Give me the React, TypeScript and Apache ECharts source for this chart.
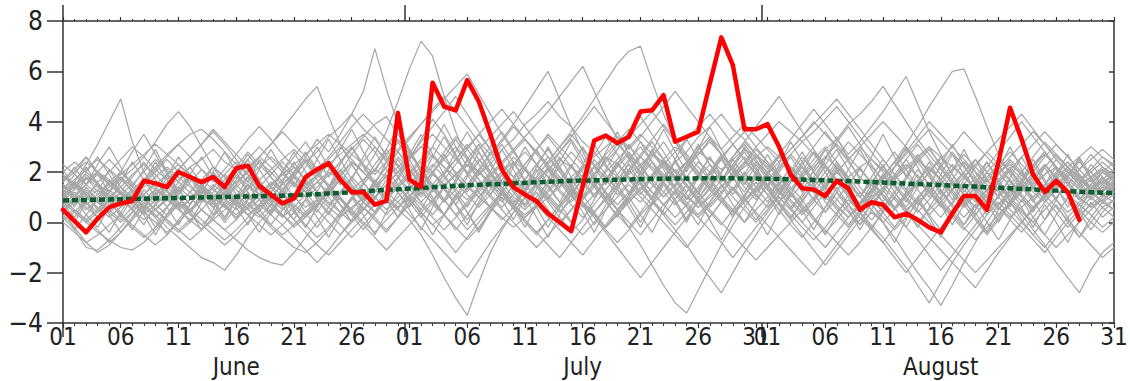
import React, { useEffect, useRef } from "react";
import * as echarts from "echarts";

// ---------- x axis: days June 1 .. Aug 31 (index 0..91) ----------
const tickIdx = [0, 5, 10, 15, 20, 25, 30, 35, 40, 45, 50, 55, 60, 61, 66, 71, 76, 81, 86, 91];
const tickText = ["01", "06", "11", "16", "21", "26", "01", "06", "11", "16", "21", "26", "31", "01", "06", "11", "16", "21", "26", "31"];
const dayIdx = [
  0, 1, 2, 3, 4, 5, 6, 7, 8, 9, 10, 11, 12, 13, 14, 15, 16, 17, 18, 19, 20, 21, 22, 23, 24, 25, 26, 27, 28, 29,
  30, 31, 32, 33, 34, 35, 36, 37, 38, 39, 40, 41, 42, 43, 44, 45, 46, 47, 48, 49, 50, 51, 52, 53, 54, 55, 56, 57, 58, 59, 60,
  61, 62, 63, 64, 65, 66, 67, 68, 69, 70, 71, 72, 73, 74, 75, 76, 77, 78, 79, 80, 81, 82, 83, 84, 85, 86, 87, 88, 89, 90, 91,
];
const monthIdx = [15, 45, 76];
const monthText = ["June", "July", "August"];
const monthEdges = [0, 29.6, 60.5];

// ---------- observed (red) ----------
const observed = [
  0.5, 0.05, -0.4, 0.15, 0.6, 0.75, 0.85, 1.65, 1.55, 1.4,
  2.0, 1.8, 1.6, 1.8, 1.4, 2.15, 2.25, 1.45, 1.1, 0.75,
  0.95, 1.8, 2.1, 2.35, 1.7, 1.2, 1.2, 0.7, 0.85, 4.35,
  1.7, 1.4, 5.55, 4.6, 4.45, 5.65, 4.8, 3.5, 2.1, 1.4,
  1.1, 0.85, 0.35, 0.0, -0.35, 1.45, 3.25, 3.45, 3.15, 3.4,
  4.4, 4.45, 5.05, 3.2, 3.4, 3.6, 5.5, 7.35, 6.25, 3.7,
  3.7, 3.9, 3.0, 1.9, 1.35, 1.3, 1.05, 1.65, 1.35, 0.5,
  0.8, 0.7, 0.2, 0.35, 0.1, -0.2, -0.4, 0.35, 1.05, 1.05,
  0.5, 2.4, 4.55, 3.3, 1.9, 1.2, 1.65, 1.2, 0.1,
];

// ---------- climatology (green dotted) ----------
const climatology = [
  0.87, 0.88, 0.89, 0.9, 0.91, 0.92, 0.93, 0.94, 0.95, 0.96,
  0.97, 0.98, 0.99, 1.0, 1.01, 1.02, 1.03, 1.04, 1.05, 1.06,
  1.08, 1.1, 1.12, 1.15, 1.17, 1.2, 1.23, 1.26, 1.29, 1.31,
  1.34, 1.36, 1.4, 1.42, 1.45, 1.47, 1.49, 1.51, 1.53, 1.55,
  1.57, 1.59, 1.61, 1.63, 1.65, 1.66, 1.67, 1.68, 1.69, 1.7,
  1.72, 1.73, 1.73, 1.74, 1.74, 1.75, 1.75, 1.75, 1.75, 1.74,
  1.74, 1.73, 1.72, 1.71, 1.7, 1.68, 1.67, 1.65, 1.64, 1.62,
  1.6, 1.58, 1.56, 1.54, 1.52, 1.5, 1.48, 1.46, 1.44, 1.42,
  1.39, 1.37, 1.35, 1.33, 1.31, 1.28, 1.26, 1.24, 1.22, 1.2,
  1.18, 1.16,
];

// ---------- ensemble members (grey) ----------
const m01 = [1.2,1.6,2.3,3.1,4.0,4.9,3.2,2.0,1.4,1.0, 0.6,0.9,1.5,2.2,1.8,1.1,0.5,0.2,0.7,1.3, 1.9,2.4,1.7,1.0,0.4,0.9,1.6,2.3,2.9,2.2, 1.5,0.8,0.3,0.9,1.7,2.5,3.1,2.4,1.6,1.0, 0.7,1.3,2.0,2.8,3.3,2.6,1.8,1.1,0.5,1.0, 1.8,2.6,3.2,2.5,1.7,1.2,0.6,1.1,1.9,2.4, 2.0,1.3,0.7,0.2,0.8,1.5,2.3,2.9,2.1,1.4, 0.9,0.4,1.0,1.7,2.5,3.0,2.2,1.5,0.8,0.3, 0.9,1.6,2.1,1.5,0.9,1.3,1.9,2.4,1.8,1.2, 0.8,1.1];
const m02 = [0.6,-0.3,-1.0,-1.1,-0.7,-0.2,0.4,0.9,1.3,1.0, 0.5,0.1,-0.3,0.2,0.8,1.5,2.1,2.6,2.2,1.6, 1.0,0.6,0.9,1.4,2.0,2.7,3.3,2.8,2.1,1.5, 0.9,0.4,-0.1,0.3,1.0,1.8,2.4,3.0,3.6,2.9, 2.1,1.4,0.8,0.2,-0.4,0.1,0.9,1.7,2.3,2.8, 2.2,1.6,1.0,1.5,2.2,2.9,3.4,2.7,2.0,1.4, 0.9,1.5,2.1,2.7,2.2,1.5,0.8,0.3,-0.2,0.4, 1.1,1.8,2.4,1.9,1.3,0.7,0.2,0.8,1.5,2.2, 2.8,2.3,1.6,1.0,0.5,1.0,1.7,2.1,1.6,1.1, 1.4,1.8];
const m03 = [1.8,1.5,1.1,0.8,1.2,1.7,2.1,2.6,3.2,3.9, 4.4,3.8,3.0,2.2,1.5,0.9,0.5,0.9,1.4,1.1, 0.6,0.2,0.7,1.3,1.9,1.4,0.8,0.4,1.0,1.7, 2.5,3.3,4.1,3.5,2.7,1.9,1.2,0.6,0.1,0.6, 1.3,2.0,2.6,2.1,1.5,0.9,1.4,2.1,2.9,3.6, 4.2,3.5,2.8,2.0,1.4,0.8,1.3,2.0,2.6,3.1, 2.5,1.8,1.2,0.6,1.1,1.8,2.5,3.2,3.8,3.1, 2.3,1.6,1.0,0.5,0.9,1.5,2.2,2.8,2.2,1.6, 1.0,0.5,1.1,1.7,2.3,2.8,2.2,1.6,1.1,1.5, 2.0,1.7];
const m04 = [0.2,0.5,0.1,-0.3,-0.8,-0.4,0.2,0.7,0.3,-0.2, -0.6,-1.0,-1.4,-1.6,-1.9,-1.3,-0.6,0.0,0.5,0.9, 0.4,-0.1,-0.6,-0.2,0.4,1.0,0.6,0.1,-0.4,0.2, 0.8,1.4,0.9,0.3,-0.3,0.3,1.0,1.6,1.2,0.6, 0.0,-0.5,0.1,0.7,1.3,1.9,1.4,0.8,0.3,-0.2, 0.4,1.0,1.6,2.1,1.5,0.9,0.4,-0.1,0.5,1.1, 1.6,1.1,0.5,-0.1,-0.6,0.0,0.6,1.2,0.7,0.2, -0.3,-0.8,-0.2,0.4,1.0,1.5,0.9,0.4,-0.1,0.5, 1.1,0.6,0.1,-0.4,0.2,0.8,1.3,0.8,0.3,0.7, 1.1,0.8];
const m05 = [1.0,1.3,1.7,2.0,1.6,1.2,0.8,1.1,1.5,1.9, 2.3,1.8,1.3,0.9,1.2,1.6,2.0,2.4,2.0,1.5, 1.9,2.6,3.3,2.8,3.5,4.3,5.2,6.9,5.3,3.9, 2.8,2.0,1.3,0.8,1.3,1.9,2.5,2.0,1.4,0.9, 0.5,1.0,1.6,2.2,2.8,2.3,1.7,1.2,0.7,1.2, 1.8,2.4,1.9,1.4,0.9,1.4,2.0,2.6,3.1,2.5, 1.9,1.3,0.8,1.3,1.9,2.5,3.0,2.4,1.8,1.2, 0.7,1.2,1.8,2.3,1.8,1.2,0.7,0.3,0.8,1.4, 2.0,2.5,2.0,1.5,1.0,1.5,2.0,2.4,1.9,1.4, 1.2,1.6];
const m06 = [0.5,0.9,1.3,0.9,0.5,0.1,0.6,1.1,1.6,1.2, 0.8,0.4,0.9,1.4,1.9,2.4,1.9,1.4,0.9,0.5, 0.9,1.4,1.9,2.5,3.0,2.5,2.0,2.7,3.6,4.8, 6.1,7.2,6.6,5.0,3.6,2.5,1.7,1.1,0.6,1.1, 1.7,2.3,1.8,1.2,0.7,0.2,0.7,1.3,1.9,2.5, 3.0,2.4,1.8,1.3,0.8,0.3,0.8,1.4,2.0,2.6, 2.1,1.5,1.0,0.5,1.0,1.6,2.2,1.7,1.1,0.6, 0.1,0.6,1.2,1.8,2.4,2.9,2.3,1.7,1.1,0.6, 1.1,1.7,2.2,1.7,1.2,0.8,1.3,1.8,1.4,0.9, 1.3,1.5];
const m07 = [1.4,1.1,0.7,1.0,1.4,1.8,1.4,0.9,0.5,0.9, 1.4,1.9,1.5,1.0,0.6,1.0,1.5,1.1,0.6,0.2, 0.6,1.1,1.6,1.2,0.7,0.3,0.8,1.3,0.9,0.5, 0.1,-0.5,-1.3,-2.2,-3.0,-3.7,-2.4,-1.2,-0.3,0.4, 1.0,1.6,2.1,1.6,1.1,0.6,1.1,1.7,2.3,1.8, 1.2,0.7,1.2,1.8,2.4,1.9,1.3,0.8,0.3,0.8, 1.4,2.0,2.6,2.1,1.5,0.9,0.4,0.9,1.5,2.1, 1.6,1.0,0.5,1.0,1.6,2.2,1.7,1.1,0.6,1.1, 1.7,2.2,1.7,1.1,0.6,1.0,1.5,1.1,0.7,1.1, 1.5,1.2];
const m08 = [1.6,2.0,2.4,2.0,1.5,1.1,1.5,2.0,2.5,2.1, 1.6,1.2,0.8,1.2,1.7,2.2,2.8,2.3,1.8,1.3, 0.9,1.3,1.8,2.3,1.9,1.4,0.9,1.4,2.0,2.6, 2.1,1.6,2.2,2.8,3.4,2.9,2.3,1.7,1.2,1.7, 2.3,2.9,3.4,2.8,2.2,1.6,1.1,1.6,2.2,2.7, 2.2,1.7,1.2,0.7,1.2,1.8,2.3,1.8,1.3,0.8, 1.3,1.8,1.4,0.9,0.4,0.9,1.4,0.9,0.4,-0.1, 0.4,0.0,-0.6,-1.3,-2.0,-2.6,-3.3,-2.5,-1.6,-0.8, 0.0,0.7,1.3,1.9,1.4,0.9,0.4,-0.2,0.4,1.0, 1.4,1.2];
const m09 = [0.8,0.4,0.0,0.4,0.9,1.4,1.0,0.6,0.2,0.6, 1.1,1.6,2.1,1.7,1.2,0.8,0.3,0.7,1.2,1.7, 2.2,1.7,1.2,0.7,1.2,1.8,2.4,3.0,2.4,1.8, 1.3,0.8,1.3,1.9,2.5,3.1,2.5,1.9,1.3,0.8, 1.2,1.8,2.4,3.0,3.5,2.9,2.3,1.7,1.1,1.6, 2.2,2.8,2.3,1.7,1.1,0.6,1.1,1.7,2.3,2.9, 2.4,1.8,1.3,1.8,2.4,3.0,3.6,3.0,2.4,1.8, 1.3,1.8,2.4,3.1,3.8,4.6,5.3,6.0,6.1,5.0, 3.8,2.7,1.9,1.3,1.8,2.3,1.8,1.3,0.9,1.3, 1.7,1.4];
const m10 = [0.0,-0.4,-0.8,-0.5,-0.1,0.3,-0.1,-0.5,-0.9,-0.5, 0.0,0.5,0.1,-0.3,-0.7,-0.3,0.2,0.7,0.3,-0.1, -0.6,-1.1,-1.6,-1.1,-0.5,0.1,0.6,0.2,-0.3,0.2, 0.7,1.2,0.8,0.3,-0.2,-0.7,-0.2,0.4,1.0,0.6, 0.1,-0.4,-0.9,-1.4,-0.8,-0.2,0.4,1.0,0.5,0.0, -0.5,0.1,0.7,1.2,0.7,0.2,-0.3,-0.8,-1.4,-0.8, -0.2,0.4,1.0,0.5,0.0,-0.5,-1.0,-0.4,0.2,0.8, 1.3,0.8,0.3,-0.2,-0.7,-1.3,-1.9,-1.3,-0.7,-0.1, 0.5,1.0,0.5,0.0,-0.5,-1.0,-0.4,0.2,0.7,0.3, -0.2,0.2];
const m11 = [2.0,2.4,2.0,1.6,2.0,2.5,3.0,2.6,2.1,1.7, 2.1,2.6,3.1,3.7,3.2,2.7,2.2,2.6,3.1,3.6, 3.1,2.6,2.1,2.6,3.2,3.8,4.3,3.8,3.3,2.8, 3.3,3.9,4.5,5.0,4.4,3.8,3.2,2.7,3.2,3.8, 3.3,2.8,2.3,2.8,3.4,4.0,4.6,4.0,3.4,2.9, 3.4,4.0,4.6,5.2,4.6,4.0,3.4,2.9,3.4,3.9, 3.4,2.9,2.4,2.9,3.4,4.0,3.5,3.0,2.5,3.0, 3.5,4.0,3.5,3.0,2.5,2.0,2.5,3.0,3.6,3.1, 2.6,2.1,2.6,3.1,3.6,3.1,2.6,2.2,2.6,3.0, 2.6,2.3];
const m12 = [1.1,1.5,1.9,1.5,1.0,0.6,1.0,1.5,2.0,2.5, 2.0,1.5,1.0,0.6,1.0,1.5,2.0,2.6,3.1,3.7, 4.3,4.9,5.4,4.2,3.1,2.3,1.6,1.0,0.5,1.0, 1.5,2.1,2.7,2.2,1.6,1.1,0.6,1.1,1.7,2.3, 2.8,2.3,1.8,1.3,0.8,1.3,1.9,2.5,3.1,2.6, 2.0,1.5,1.0,1.5,2.1,2.7,3.3,2.7,2.1,1.6, 1.1,0.6,1.1,1.7,2.3,2.8,2.3,1.7,1.2,0.7, 1.2,1.8,2.4,2.9,2.4,1.8,1.2,0.7,0.2,0.7, 1.3,1.9,2.5,2.0,1.4,0.9,1.4,1.9,2.4,2.0, 1.5,1.9];
const m13 = [0.9,0.5,0.1,0.5,1.0,1.4,1.9,2.3,1.9,1.4, 1.0,0.5,0.9,1.4,1.9,1.5,1.0,0.6,1.0,1.5, 2.0,2.5,2.0,1.5,1.0,0.5,1.0,1.6,2.2,2.8, 2.3,1.7,1.2,1.7,2.3,2.9,3.5,2.9,2.3,1.8, 1.3,1.8,2.4,3.0,3.6,4.2,4.9,5.6,6.3,6.8, 7.0,5.6,4.3,3.2,2.4,1.8,1.3,0.8,1.3,1.8, 2.4,2.0,1.5,1.0,1.5,2.0,2.6,3.1,2.6,2.1, 1.6,1.1,0.6,1.1,1.6,2.2,1.7,1.2,0.7,1.2, 1.8,2.3,2.8,2.3,1.8,1.3,1.8,2.2,1.7,1.3, 1.6,1.9];
const m14 = [1.3,0.9,0.5,0.9,1.3,0.9,0.5,0.1,0.5,1.0, 1.4,1.0,0.5,0.1,-0.3,0.1,0.6,1.1,1.6,1.2, 0.7,0.3,0.7,1.2,1.7,1.3,0.8,0.4,0.9,1.4, 1.9,2.4,2.0,1.5,1.0,1.5,2.1,2.7,3.3,3.9, 4.6,5.3,6.0,4.9,3.8,2.8,1.9,1.2,0.5,-0.2, -0.9,-1.7,-2.5,-3.2,-3.6,-2.7,-1.8,-0.9,-0.1,0.6, 1.2,1.8,1.3,0.8,0.3,0.8,1.4,2.0,1.5,1.0, 0.5,0.0,0.5,1.1,1.7,1.2,0.7,0.2,-0.3,0.3, 0.9,1.4,0.9,0.4,0.0,0.5,1.0,1.5,1.0,0.6, 0.9,1.2];
const m15 = [1.5,1.1,0.7,1.1,1.6,2.0,1.6,1.1,0.7,0.3, 0.7,1.2,1.7,1.3,0.9,0.5,0.9,1.4,1.9,2.4, 1.9,1.4,1.0,1.4,1.9,2.4,2.0,1.5,1.0,1.5, 2.0,2.5,3.0,2.5,2.0,1.5,1.0,1.5,2.0,2.6, 2.1,1.6,1.1,0.6,1.1,1.7,2.2,1.8,1.3,0.8, 1.3,1.9,2.5,3.0,2.5,2.0,1.5,2.0,2.6,3.2, 2.7,2.1,2.7,3.3,3.9,4.5,3.9,3.3,2.7,3.2, 3.8,4.4,5.1,5.8,4.7,3.6,2.7,1.9,1.3,0.8, 1.3,1.9,2.4,1.9,1.4,1.9,2.5,2.0,1.5,1.8, 2.2,1.9];
const m16 = [0.4,0.8,1.2,0.8,0.4,0.0,0.4,0.9,1.3,0.9, 0.5,0.9,1.4,1.0,0.6,0.2,0.6,1.1,0.7,0.3, -0.1,0.3,0.8,1.3,0.9,0.5,0.0,-0.4,0.1,0.6, 1.1,0.7,0.2,-0.3,0.2,0.7,1.2,1.7,1.2,0.7, 0.2,0.7,1.3,1.8,1.3,0.8,0.3,-0.2,0.3,0.9, 1.4,0.9,0.4,-0.1,0.4,1.0,1.5,1.0,0.5,0.0, 0.5,1.0,1.6,1.1,0.6,0.1,-0.4,0.1,0.7,1.2, 0.7,0.2,-0.3,0.2,0.8,1.3,0.8,0.3,-0.2,-0.7, -0.2,0.3,0.8,0.3,-0.3,-0.9,-1.6,-2.2,-2.8,-1.9, -1.2,-0.8];
const m17 = [1.0,0.7,1.1,1.5,1.2,0.8,1.2,1.6,1.3,0.9, 1.3,1.7,1.4,1.0,1.4,1.8,1.5,1.1,1.5,1.9, 1.6,1.2,1.6,2.0,1.7,1.3,1.7,2.1,1.8,1.4, 1.8,2.2,1.9,1.5,1.9,2.3,2.0,1.6,2.0,2.4, 2.1,1.7,2.1,2.5,2.2,1.8,2.2,2.6,2.3,1.9, 2.3,2.7,2.4,2.0,2.4,2.8,2.5,2.1,2.5,2.9, 2.6,2.2,2.6,2.2,1.8,2.2,2.6,2.2,1.8,2.2, 2.5,2.1,1.7,2.1,2.5,2.1,1.7,2.1,2.4,2.0, 1.6,2.0,2.3,1.9,1.5,1.9,2.2,1.8,1.4,1.8, 2.1,1.7];
const m18 = [0.3,-0.2,-0.8,-1.2,-0.9,-0.4,0.1,0.6,1.1,1.6, 2.1,2.6,3.1,3.6,3.1,2.5,1.9,1.3,0.8,0.3, -0.2,0.2,0.7,1.2,1.8,2.4,2.0,1.5,1.0,0.6, 1.0,1.5,2.0,2.5,3.0,2.5,2.0,1.5,1.1,0.7, 0.3,0.7,1.2,1.7,1.2,0.8,0.4,0.9,1.4,2.0, 2.6,2.1,1.6,1.1,0.6,0.2,0.7,1.2,1.8,2.4, 3.0,3.5,4.0,3.6,3.2,3.6,4.1,4.6,4.0,3.4, 2.8,2.2,1.7,1.2,0.7,1.2,1.7,2.3,1.8,1.3, 0.8,0.3,0.8,1.4,2.0,2.6,3.1,2.6,2.1,1.6, 2.0,2.4];
const m19 = [1.2,1.6,1.2,0.8,0.4,0.8,1.3,0.9,0.5,0.1, -0.3,0.1,0.5,0.1,-0.3,-0.7,-1.1,-1.4,-1.6,-1.7, -1.2,-0.6,0.0,0.6,1.2,1.8,1.3,0.8,0.3,0.8, 1.3,1.8,2.3,1.8,1.3,0.9,1.4,1.9,2.4,2.9, 3.4,3.9,4.4,5.0,5.6,6.2,5.2,4.2,3.3,2.5, 1.8,1.2,0.7,1.2,1.8,2.4,2.0,1.5,1.0,0.5, 0.0,0.5,1.1,1.7,2.2,1.7,1.2,0.7,0.2,0.7, 1.3,1.9,1.4,0.9,0.4,0.9,1.5,2.1,2.7,2.2, 1.7,1.2,0.7,1.2,1.7,2.2,2.7,2.2,1.7,1.3, 1.7,2.1];
const m20 = [0.7,1.1,1.5,1.9,1.5,1.1,0.7,0.3,0.7,1.1, 0.7,0.3,-0.1,0.3,0.7,1.1,0.7,0.3,-0.1,-0.5, -0.1,0.4,0.9,0.4,-0.1,-0.6,-0.1,0.4,0.9,1.4, 0.9,0.4,-0.1,-0.6,-1.2,-0.6,0.0,0.6,1.1,0.6, 0.1,-0.4,0.1,0.7,1.2,0.7,0.2,-0.3,-0.8,-0.3, 0.3,0.8,0.3,-0.3,-0.9,-1.6,-2.2,-2.8,-2.0,-1.2, -0.5,0.2,0.8,0.3,-0.2,-0.7,-0.2,0.4,0.9,0.4, -0.1,-0.6,-1.2,-1.8,-2.5,-3.2,-2.4,-1.6,-0.9,-0.3, 0.3,0.8,0.3,-0.2,-0.7,-1.2,-0.6,0.0,0.5,0.0, -0.4,0.0];
const m21 = [1.9,1.5,1.0,0.6,0.2,0.6,1.1,1.6,2.1,2.6, 3.1,2.6,2.1,1.6,2.1,2.7,3.3,3.8,3.3,2.7, 2.2,1.7,1.2,0.8,0.4,0.0,0.5,1.0,1.5,2.0, 2.6,3.2,3.8,4.4,5.0,4.3,3.6,2.9,2.3,1.8, 2.3,2.9,3.5,3.0,2.5,2.0,1.5,1.0,1.5,2.1, 2.7,3.3,3.9,3.3,2.7,2.2,1.7,1.2,1.7,2.3, 2.9,2.4,1.9,1.4,0.9,1.4,2.0,2.6,3.2,2.7, 2.2,1.7,2.2,2.8,3.4,4.0,3.5,3.0,2.5,2.0, 1.5,1.0,1.5,2.0,2.6,3.2,2.7,2.2,1.7,2.1, 2.6,2.2];
const m22 = [0.9,1.2,0.8,0.4,0.8,1.2,0.8,0.4,0.0,-0.4, 0.0,0.5,1.0,1.5,1.1,0.7,0.3,-0.1,-0.5,-0.1, 0.4,0.9,1.4,1.9,2.4,2.9,3.4,3.9,4.2,3.5, 2.8,2.1,1.5,0.9,0.3,-0.3,0.2,0.7,1.2,1.7, 1.2,0.7,0.2,-0.3,-0.8,-1.3,-0.7,-0.1,0.5,1.1, 1.7,1.2,0.7,0.2,0.7,1.3,1.9,2.5,3.1,3.6, 3.0,2.4,1.8,1.2,0.7,0.2,-0.3,-0.8,-1.3,-0.8, -0.2,0.4,1.0,0.5,0.0,0.5,1.0,1.5,2.0,2.5, 2.0,1.5,1.0,0.5,0.0,-0.5,-1.0,-0.5,0.0,0.5, 0.9,0.5];
const m23 = [1.7,2.1,2.6,2.0,1.7,1.2,0.9,0.4,0.9,1.4, 1.7,2.2,2.5,2.9,2.4,2.1,1.6,1.3,0.8,1.3, 1.8,2.4,2.8,3.4,3.8,4.3,3.7,3.3,2.7,2.3, 1.7,1.3,0.7,0.3,0.9,1.3,1.9,2.3,2.9,3.3, 3.9,4.3,4.8,4.2,3.8,3.2,2.8,2.2,1.8,1.2, 0.8,1.4,1.8,2.4,2.8,3.4,3.8,4.3,3.7,3.3, 2.7,2.3,1.7,1.3,1.9,2.3,2.9,3.3,3.9,4.3, 4.8,5.4,4.7,4.0,3.3,2.7,2.1,1.6,1.1,0.6, 1.1,1.6,2.1,2.6,3.1,3.6,3.1,2.6,2.1,2.5, 2.9,2.5];
const m24 = [0.1,0.4,0.9,1.3,0.8,0.3,-0.2,-0.6,-0.2,0.3, 0.8,0.4,-0.1,-0.5,-0.9,-0.5,0.0,0.5,1.0,0.6, 0.1,-0.4,-0.9,-1.3,-0.8,-0.3,0.2,0.7,1.2,0.8, 0.3,-0.2,-0.7,-1.2,-1.7,-2.2,-1.5,-0.8,-0.2,0.4, 1.0,1.5,1.0,0.5,0.0,-0.5,0.0,0.5,1.0,1.5, 1.0,0.5,0.0,-0.5,-1.0,-0.4,0.2,0.8,1.4,0.9, 0.4,-0.1,-0.6,-1.1,-1.6,-2.1,-1.5,-0.9,-0.3,0.3, 0.9,1.4,0.9,0.4,-0.1,-0.6,-1.1,-1.6,-2.1,-2.6, -1.9,-1.2,-0.6,0.0,0.6,1.1,0.6,0.1,-0.4,-0.9, -1.4,-1.0];
const m25 = [1.3,1.7,2.1,2.5,2.1,1.7,1.3,1.7,2.2,2.7, 3.1,3.5,3.7,3.3,2.8,2.3,1.9,1.5,1.1,0.7, 1.1,1.5,1.9,2.3,2.7,3.1,3.5,3.0,2.5,2.0, 1.5,1.0,1.5,2.0,2.5,3.0,3.5,4.0,4.5,3.9, 3.3,2.7,2.2,1.7,1.2,1.7,2.2,2.7,3.2,3.7, 3.2,2.7,2.2,1.7,2.2,2.7,3.2,2.7,2.2,1.7, 1.2,1.7,2.2,2.7,3.2,2.7,2.2,1.7,1.2,0.7, 1.2,1.7,2.2,2.7,3.2,3.7,3.2,2.7,2.2,1.7, 1.2,0.7,1.2,1.7,2.2,2.7,2.2,1.7,1.3,1.7, 2.1,1.8];
const m26 = [0.8,0.4,0.0,-0.4,-0.7,-1.0,-1.1,-0.8,-0.3,0.2, 0.7,1.2,1.7,2.2,1.8,1.3,0.8,0.3,-0.2,-0.6, -1.0,-1.2,-0.8,-0.3,0.3,0.9,1.5,2.1,2.7,3.3, 2.7,2.1,1.5,0.9,0.3,0.8,1.3,1.8,2.3,2.8, 3.3,2.8,2.3,1.8,1.3,0.8,0.3,-0.2,0.3,0.8, 1.3,1.8,2.3,2.8,3.3,3.8,4.3,3.7,3.1,2.5, 1.9,1.3,0.7,0.1,-0.5,-1.1,-1.7,-1.1,-0.5,0.1, 0.7,1.3,1.9,2.5,3.1,2.5,1.9,1.3,0.7,0.1, -0.5,0.1,0.7,1.3,1.9,1.4,0.9,0.4,0.8,1.2, 1.6,1.3];
const m27 = [2.3,1.9,1.5,1.1,1.5,1.9,2.3,2.7,3.1,2.7, 2.3,1.9,1.5,1.1,0.7,0.3,0.7,1.1,1.5,1.9, 2.3,2.7,3.1,3.5,3.1,2.7,2.3,1.9,2.4,2.9, 3.4,3.9,4.4,4.9,5.4,5.9,5.1,4.3,3.5,2.8, 2.1,1.5,0.9,0.4,0.9,1.4,1.9,2.4,2.9,3.4, 3.9,4.4,3.8,3.2,2.6,2.0,1.4,0.9,0.4,0.9, 1.4,1.9,2.4,2.9,3.4,3.9,4.4,4.9,4.3,3.7, 3.1,2.5,1.9,1.3,0.8,0.3,0.8,1.3,1.8,2.3, 2.8,3.3,3.8,4.3,3.7,3.1,2.5,2.0,1.6,2.0, 2.4,2.0];
const m28 = [1.5,1.0,0.6,0.2,0.5,0.9,1.3,0.9,0.5,0.1, -0.3,-0.7,-0.3,0.1,0.5,0.9,1.3,1.7,2.1,2.5, 2.9,2.4,1.9,1.4,0.9,0.4,-0.1,-0.6,-1.1,-0.6, -0.1,0.4,0.9,1.4,1.9,2.4,2.9,3.4,3.9,4.4, 3.8,3.2,2.6,2.0,1.4,0.8,0.2,-0.4,-1.0,-1.6, -2.2,-1.6,-1.0,-0.4,0.2,0.8,1.4,2.0,2.6,3.2, 3.8,4.4,5.0,4.3,3.6,2.9,2.2,1.6,1.0,0.4, -0.2,-0.8,-1.4,-2.0,-1.4,-0.8,-0.2,0.4,1.0,1.6, 2.2,2.8,3.4,4.0,3.4,2.8,2.2,1.6,1.0,0.6, 1.0,1.4];
const m29 = [1.1,1.4,1.8,1.4,1.1,0.7,1.1,1.4,1.8,2.2, 1.8,1.4,1.0,0.6,1.0,1.4,1.8,2.2,2.6,2.2, 1.8,1.4,1.0,0.6,0.2,0.6,1.0,1.4,1.8,2.2, 2.6,3.0,2.6,2.2,1.8,1.4,1.0,0.6,0.2,-0.2, 0.2,0.6,1.0,1.4,1.8,2.2,2.6,3.0,3.4,3.0, 2.6,2.2,1.8,1.4,1.0,0.6,1.0,1.4,1.8,2.2, 2.6,3.0,2.6,2.2,1.8,1.4,1.0,0.6,0.2,0.6, 1.0,1.4,1.8,2.2,2.6,3.0,2.6,2.2,1.8,1.4, 1.0,0.6,0.2,0.6,1.0,1.4,1.8,2.2,1.8,1.4, 1.1,1.4];
const m30 = [0.6,1.0,1.5,2.0,2.5,2.0,1.5,1.0,0.5,0.0, -0.4,0.0,0.5,1.0,1.5,2.0,2.5,3.0,2.5,2.0, 1.5,1.0,0.5,0.0,-0.5,0.0,0.5,1.0,1.5,2.0, 2.5,3.0,3.5,3.0,2.5,2.0,1.5,1.0,0.5,0.0, -0.5,-1.0,-0.5,0.0,0.5,1.0,1.5,2.0,2.5,3.0, 3.5,3.0,2.5,2.0,1.5,1.0,0.5,0.0,-0.5,-1.0, -1.5,-1.0,-0.5,0.0,0.5,1.0,1.5,2.0,2.5,3.0, 2.5,2.0,1.5,1.0,0.5,0.0,-0.5,-1.0,-1.5,-2.0, -1.5,-1.0,-0.5,0.0,0.5,1.0,1.5,2.0,1.5,1.0, 0.6,0.9];
const m31 = [1.2,0.6,1.4,0.9,1.7,1.1,0.5,1.3,0.8,1.6, 1.0,0.4,1.2,1.9,1.3,0.7,1.5,0.9,0.3,1.1, 1.8,1.2,0.6,1.4,2.1,1.5,0.9,1.7,1.1,0.5, 1.3,2.0,1.4,0.8,1.6,2.3,1.7,1.1,1.9,1.3, 0.7,1.5,2.2,1.6,1.0,1.8,2.5,1.9,1.3,2.1, 1.5,0.9,1.7,2.4,1.8,1.2,2.0,2.7,2.1,1.5, 2.3,1.7,1.1,1.9,2.6,2.0,1.4,2.2,1.6,1.0, 1.8,2.5,1.9,1.3,2.1,1.5,0.9,1.7,2.4,1.8, 1.2,2.0,1.4,0.8,1.6,2.3,1.7,1.1,1.9,1.3, 0.8,1.5];
const m32 = [0.4,1.0,0.3,-0.2,0.6,1.2,0.5,-0.1,0.7,1.3, 0.6,0.0,0.8,1.4,0.7,0.1,0.9,1.5,0.8,0.2, 1.0,1.6,0.9,0.3,1.1,1.7,1.0,0.4,1.2,1.8, 1.1,0.5,1.3,1.9,1.2,0.6,1.4,2.0,1.3,0.7, 1.5,2.1,1.4,0.8,1.6,2.2,1.5,0.9,1.7,2.3, 1.6,1.0,1.8,2.4,1.7,1.1,1.9,2.5,1.8,1.2, 2.0,1.4,0.8,1.6,2.2,1.5,0.9,1.7,1.1,0.5, 1.3,1.9,1.2,0.6,1.4,2.0,1.3,0.7,1.5,0.9, 0.3,1.1,1.7,1.0,0.4,1.2,1.8,1.1,0.5,1.3, 1.8,1.2];
const m33 = [1.9,1.3,2.0,2.6,1.9,1.2,1.8,2.4,1.7,1.0, 1.6,2.2,1.5,0.8,1.4,2.0,2.7,2.1,1.4,2.0, 2.6,3.2,2.5,1.8,2.4,3.0,2.3,1.6,2.2,2.8, 2.1,1.4,2.0,2.6,3.3,2.6,1.9,2.5,3.1,2.4, 1.7,2.3,2.9,2.2,1.5,2.1,2.7,3.4,2.7,2.0, 2.6,3.2,2.5,1.8,2.4,3.0,2.3,1.6,2.2,2.8, 2.1,1.4,2.0,2.6,1.9,1.2,1.8,2.4,1.7,1.0, 1.6,2.2,2.8,2.1,1.4,2.0,2.6,1.9,1.2,1.8, 2.4,1.7,1.0,1.6,2.2,2.8,2.1,1.5,2.1,2.7, 2.2,1.8];
const m34 = [0.2,-0.3,0.3,0.9,0.3,-0.4,0.2,0.8,0.2,-0.5, 0.1,0.7,1.3,0.6,0.0,0.6,1.2,0.5,-0.1,0.5, 1.1,0.4,-0.2,0.4,1.0,0.3,-0.3,0.3,0.9,1.5, 0.8,0.2,0.8,1.4,0.7,0.1,0.7,1.3,1.9,1.2, 0.6,1.2,0.5,-0.1,0.5,1.1,0.4,-0.2,0.4,1.0, 1.6,0.9,0.3,0.9,1.5,0.8,0.2,0.8,1.4,0.7, 0.1,0.7,1.3,0.6,0.0,0.6,1.2,0.5,-0.1,0.5, 1.1,0.4,-0.2,0.4,1.0,0.3,-0.3,0.3,0.9,0.2, -0.4,0.2,0.8,0.1,-0.5,0.1,0.7,0.0,-0.6,0.0, 0.6,0.2];
const m35 = [1.5,0.9,1.8,1.2,2.1,1.4,0.8,1.6,2.4,1.7, 1.1,1.9,1.3,0.7,1.5,2.2,1.6,2.5,1.8,1.2, 2.0,2.8,2.1,1.4,2.3,3.0,2.2,1.5,2.4,3.2, 2.5,1.7,2.6,3.4,2.6,1.9,2.8,2.0,1.3,2.2, 3.0,2.3,1.5,2.4,3.2,2.4,1.7,2.6,1.9,1.1, 2.0,2.9,2.1,1.4,2.3,3.1,2.3,1.6,2.5,1.8, 1.0,1.9,2.7,2.0,1.2,2.1,2.9,2.1,1.4,2.2, 1.5,0.8,1.7,2.5,1.8,1.0,1.9,2.7,1.9,1.2, 2.0,1.3,0.6,1.5,2.3,1.6,0.9,1.8,2.5,1.7, 1.0,1.6];
const m36 = [0.9,1.5,0.8,0.2,1.0,0.4,-0.3,0.5,1.2,0.6, -0.1,0.7,1.4,0.8,0.1,0.9,0.3,-0.4,0.4,1.1, 0.5,-0.2,0.6,1.3,0.7,0.0,0.8,1.5,0.9,0.2, 1.0,1.7,1.0,0.3,1.1,0.4,-0.3,0.5,1.3,0.6, -0.2,0.7,1.5,0.8,0.0,0.9,1.6,0.9,0.2,1.0, 0.3,-0.4,0.5,1.3,0.6,-0.1,0.8,1.5,0.7,0.0, 0.8,1.5,0.8,0.1,0.9,0.2,-0.5,0.3,1.1,0.4, -0.3,0.5,1.2,0.5,-0.2,0.6,1.3,0.6,-0.1,0.7, 0.0,-0.7,0.1,0.9,0.2,-0.5,0.3,1.0,0.4,-0.3, 0.4,0.9];
const m37 = [1.6,2.2,1.5,2.3,3.0,2.2,1.4,2.1,2.9,2.0, 1.2,1.9,2.6,1.8,1.0,1.7,2.5,1.7,0.9,1.6, 2.4,1.6,2.5,3.3,2.5,1.7,2.6,3.4,2.6,1.8, 2.7,3.5,2.7,1.9,2.8,3.6,2.8,2.0,2.9,2.1, 1.3,2.2,3.0,2.2,1.4,2.3,3.1,2.3,1.5,2.4, 3.2,2.4,1.6,2.5,3.3,2.5,1.7,2.6,1.8,1.0, 1.9,2.7,1.9,1.1,2.0,2.8,2.0,1.2,2.1,2.9, 2.1,1.3,2.2,3.0,2.2,1.4,2.3,3.1,2.3,1.5, 2.4,1.6,0.8,1.7,2.5,1.7,0.9,1.8,2.6,1.8, 1.2,1.9];
const m38 = [0.5,0.0,0.8,0.2,-0.4,0.4,1.1,0.5,-0.2,0.6, 1.3,0.7,1.5,0.9,0.2,1.0,1.8,1.1,0.4,1.2, 0.5,-0.2,0.6,1.4,0.7,0.0,0.8,1.6,0.9,0.2, 1.0,0.3,-0.5,0.3,1.1,0.4,-0.4,0.4,1.2,0.5, 1.3,0.6,-0.2,0.6,1.4,0.7,-0.1,0.7,1.5,0.8, 0.0,0.8,1.6,0.9,0.1,0.9,1.7,1.0,0.2,1.0, 1.8,1.1,0.3,1.1,1.9,1.2,0.4,1.2,0.5,-0.3, 0.5,1.3,0.6,-0.2,0.6,1.4,0.7,-0.1,0.7,1.5, 0.8,0.0,0.8,1.6,0.9,0.1,0.9,0.2,-0.6,0.2, 0.8,0.5];
const m39 = [1.3,1.9,2.6,1.9,1.2,2.0,2.8,3.5,2.7,1.9, 1.1,1.8,1.0,0.3,1.1,1.9,1.2,0.4,1.2,2.0, 2.8,2.0,1.2,2.1,2.9,3.7,2.8,2.0,2.9,3.8, 2.9,2.1,3.0,3.9,3.0,2.2,3.1,2.3,1.5,2.4, 1.6,0.8,1.7,2.6,1.8,1.0,1.9,2.8,3.6,2.7, 1.9,2.8,3.7,2.8,2.0,2.9,3.8,2.9,2.1,3.0, 2.2,1.4,2.3,3.2,2.4,1.6,2.5,3.4,2.5,1.7, 2.6,3.5,2.6,1.8,2.7,1.9,1.1,2.0,2.9,2.0, 1.2,2.1,3.0,2.1,1.3,2.2,1.4,0.6,1.5,2.3, 1.8,1.4];
const m40 = [0.7,0.2,0.9,1.6,0.9,0.2,1.0,0.3,-0.5,0.3, 1.0,0.4,-0.3,0.5,1.2,0.6,-0.1,0.7,1.4,0.8, 0.1,0.9,0.2,-0.6,0.2,1.0,0.3,-0.5,0.4,1.2, 0.5,-0.3,0.6,1.4,0.7,-0.1,0.8,1.6,0.9,0.1, 1.0,0.2,-0.6,0.3,1.1,0.4,-0.4,0.5,1.3,0.6, -0.2,0.7,1.5,0.8,0.0,0.9,0.1,-0.7,0.2,1.0, 0.3,-0.5,0.4,1.2,0.5,-0.3,0.6,1.4,0.7,-0.1, 0.8,0.0,-0.8,0.1,0.9,0.2,-0.6,0.3,1.1,0.4, -0.4,0.5,1.3,0.6,-0.2,0.7,0.0,-0.8,0.1,0.8, 0.2,0.6];
const m41 = [2.1,1.4,2.2,1.5,0.8,1.6,2.4,1.7,1.0,1.8, 2.6,1.9,1.1,2.0,2.8,2.0,1.3,2.1,2.9,2.1, 1.4,2.2,3.0,2.2,1.5,2.3,1.6,0.9,1.7,2.5, 1.8,1.1,1.9,2.7,1.9,1.2,2.0,2.8,2.0,1.3, 2.1,2.9,2.1,1.4,2.2,3.0,2.2,1.5,2.3,3.1, 2.3,1.6,2.4,1.7,0.9,1.8,2.6,1.8,1.1,1.9, 2.7,1.9,1.2,2.0,2.8,2.0,1.3,2.1,1.4,0.7, 1.5,2.3,1.5,0.8,1.6,2.4,1.6,0.9,1.7,2.5, 1.7,1.0,1.8,2.6,1.8,1.1,1.9,2.7,1.9,1.3, 2.0,1.6];
const m42 = [1.0,1.6,1.1,0.5,1.2,1.8,1.2,0.6,1.3,1.9, 1.3,0.7,1.4,2.0,1.4,0.8,1.5,0.9,0.3,1.0, 1.6,1.0,0.4,1.1,1.7,1.1,0.5,1.2,1.9,1.2, 0.6,1.3,2.0,1.3,0.7,1.4,2.1,1.4,0.8,1.5, 2.2,1.5,0.9,1.6,2.3,1.6,1.0,1.7,2.4,1.7, 1.1,1.8,2.5,1.8,1.2,1.9,2.6,1.9,1.3,2.0, 1.4,0.8,1.5,2.2,1.5,0.9,1.6,2.3,1.6,1.0, 1.7,1.1,0.5,1.2,1.9,1.2,0.6,1.3,2.0,1.3, 0.7,1.4,2.1,1.4,0.8,1.5,2.2,1.5,0.9,1.5, 1.2,1.7];

const members = [m01, m02, m03, m04, m05, m06, m07, m08, m09, m10, m11, m12, m13, m14, m15, m16, m17,
  m18, m19, m20, m21, m22, m23, m24, m25, m26, m27, m28, m29, m30, m31, m32, m33, m34, m35, m36, m37,
  m38, m39, m40, m41, m42];

const FONT = "'Liberation Sans Narrow', 'DejaVu Sans Condensed', 'Liberation Sans', sans-serif";
const AXIS = "#333333";

function pairs(arr: number[]) {
  return arr.map((v, i) => [i, v]);
}

export default function App() {
  const ref = useRef<HTMLDivElement>(null);

  useEffect(() => {
    if (!ref.current) return;
    const chart = echarts.init(ref.current, undefined, { renderer: "svg" });

    const baseX = (extra: any) => ({
      type: "value",
      min: 0,
      max: 91,
      gridIndex: 0,
      splitLine: { show: false },
      axisLine: { show: false, onZero: false },
      axisTick: { show: false },
      axisLabel: { show: false },
      ...extra,
    });

    const option: any = {
      animation: false,
      backgroundColor: "#ffffff",
      grid: { left: 63, right: 16, top: 21, bottom: 58, containLabel: false, outerBoundsMode: "none" },
      xAxis: [
        baseX({
          position: "bottom",
          axisLine: { show: true, onZero: false, lineStyle: { color: AXIS, width: 1.5 } },
          axisTick: { show: true, customValues: tickIdx, length: 5, lineStyle: { color: AXIS, width: 1.2 } },
          axisLabel: {
            show: true,
            customValues: tickIdx,
            margin: 3,
            color: "#222",
            fontSize: 24,
            lineHeight: 22,
            fontFamily: FONT,
            formatter: (v: number) => {
              const k = tickIdx.indexOf(Math.round(v));
              return k >= 0 ? tickText[k] : "";
            },
          },
        }),
        baseX({
          position: "bottom",
          axisTick: { show: true, customValues: dayIdx, length: 3, lineStyle: { color: AXIS, width: 1 } },
        }),
        baseX({
          position: "bottom",
          axisTick: { show: true, customValues: monthEdges, length: 14, lineStyle: { color: AXIS, width: 1.5 } },
        }),
        baseX({
          position: "bottom",
          axisLabel: {
            show: true,
            customValues: monthIdx,
            margin: 33,
            color: "#222",
            fontSize: 24,
            lineHeight: 22,
            fontFamily: FONT,
            formatter: (v: number) => {
              const k = monthIdx.indexOf(Math.round(v));
              return k >= 0 ? monthText[k] : "";
            },
          },
        }),
        baseX({
          position: "top",
          axisLine: { show: true, onZero: false, lineStyle: { color: AXIS, width: 1.5 } },
          axisTick: { show: true, customValues: tickIdx, length: 4, lineStyle: { color: AXIS, width: 1.2 } },
        }),
        baseX({
          position: "top",
          axisTick: { show: true, customValues: dayIdx, length: 2, lineStyle: { color: AXIS, width: 1 } },
        }),
        baseX({
          position: "top",
          axisTick: { show: true, customValues: monthEdges, length: 16, lineStyle: { color: AXIS, width: 1.5 } },
        }),
      ],
      yAxis: [
        {
          type: "value",
          min: -4,
          max: 8,
          interval: 2,
          position: "left",
          splitLine: { show: false },
          axisLine: { show: true, onZero: false, lineStyle: { color: AXIS, width: 1.5 } },
          axisTick: { show: true, length: 16, lineStyle: { color: AXIS, width: 1.5 } },
          axisLabel: {
            margin: 20,
            color: "#222",
            fontSize: 26,
            fontFamily: FONT,
            formatter: (v: number) => (v < 0 ? "\u2212" + Math.abs(v) : String(v)),
          },
        },
        {
          type: "value",
          min: -4,
          max: 8,
          interval: 2,
          position: "right",
          splitLine: { show: false },
          axisLine: { show: true, onZero: false, lineStyle: { color: AXIS, width: 1.5 } },
          axisTick: { show: true, inside: true, length: 5, lineStyle: { color: AXIS, width: 1.5 } },
          axisLabel: { show: false },
        },
      ],
      series: [
        ...members.map((m, k) => ({
          name: "member" + (k + 1),
          type: "line",
          xAxisIndex: 0,
          yAxisIndex: 0,
          data: pairs(m),
          symbol: "none",
          silent: true,
          z: 2,
          lineStyle: { color: "#a8a8a8", width: 1.25 },
        })),
        {
          name: "climatology",
          type: "line",
          xAxisIndex: 0,
          yAxisIndex: 0,
          data: pairs(climatology),
          symbol: "none",
          z: 3,
          lineStyle: { color: "#0b5e32", width: 4.5, type: [6, 3], cap: "butt" },
        },
        {
          name: "observed",
          type: "line",
          xAxisIndex: 0,
          yAxisIndex: 0,
          data: pairs(observed),
          symbol: "none",
          z: 4,
          lineStyle: { color: "#ff0000", width: 4.5, join: "round", cap: "round" },
        },
      ],
    };

    chart.setOption(option);
    return () => chart.dispose();
  }, []);

  return (
    <div
      ref={ref}
      style={{ position: "absolute", left: 0, top: 0, width: 1130, height: 381, background: "#fff" }}
    />
  );
}
